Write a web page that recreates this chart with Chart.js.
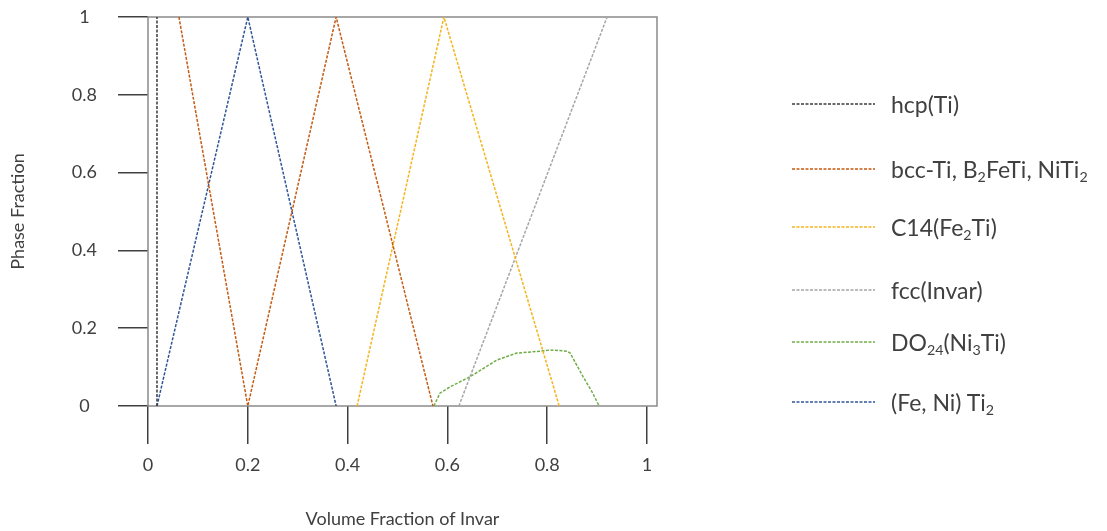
<!DOCTYPE html>
<html>
<head>
<meta charset="utf-8">
<script src="https://cdn.jsdelivr.net/npm/chart.js@4.4.1/dist/chart.umd.min.js"></script>
<style>
  html, body { margin: 0; padding: 0; background: #fff; }
  #wrap { position: relative; width: 1107px; height: 531px; }
  #legend { position: absolute; left: 0; top: 0; font: 23px Lato, sans-serif; color: #404040; }
  #legend .item { position: absolute; left: 792px; height: 40px; margin-top: -20px; display: flex; align-items: center; white-space: nowrap; }
  #legend svg { margin-right: 16px; flex: none; }
  #legend sub { font-size: 62%; vertical-align: -0.25em; line-height: 0; }
</style>
</head>
<body>
<div id="wrap">
  <canvas id="myChart" width="1107" height="531"></canvas>
  <div id="legend"></div>
</div>
<script>
// Tên các pha (thứ tự chú giải)
const phaseNames = ['hcp(Ti)', 'bcc-Ti, B₂FeTi, NiTi₂', 'C14(Fe₂Ti)', 'fcc(Invar)', 'DO₂₄(Ni₃Ti)', '(Fe, Ni) Ti₂'];
const phaseColors = ['#3b3b3b', '#c55a11', '#f5b41c', '#a5a5a5', '#70ad47', '#2f5597'];

// x = volume fraction of Invar, y = phase fraction
const hcpX = [0.018, 0.018];
const hcpY = [0, 1];
const bccX = [0.062, 0.2, 0.377, 0.571];
const bccY = [1, 0, 1, 0];
const c14X = [0.419, 0.593, 0.824];
const c14Y = [0, 1, 0];
const fccX = [0.623, 0.92];
const fccY = [0, 1];
const do24X = [0.573, 0.585, 0.605, 0.645, 0.699, 0.739, 0.786, 0.806, 0.84, 0.846, 0.872, 0.89, 0.904];
const do24Y = [0, 0.033, 0.049, 0.075, 0.118, 0.136, 0.141, 0.144, 0.141, 0.136, 0.075, 0.036, 0];
const fenitiX = [0.018, 0.2, 0.377];
const fenitiY = [0, 1, 0];

const seriesX = [hcpX, bccX, c14X, fccX, do24X, fenitiX];
const seriesY = [hcpY, bccY, c14Y, fccY, do24Y, fenitiY];

const xTitle = 'Volume Fraction of Invar';
const yTitle = 'Phase Fraction';

// vị trí dọc của từng dòng chú giải (px)
const legendRowY = [104, 169, 227, 290, 342, 402];

Chart.defaults.font.family = 'Lato';
Chart.defaults.color = '#404040';

// khung quanh vùng vẽ
const plotBox = {
    id: 'plotBox',
    beforeDatasetsDraw(chart) {
        const a = chart.chartArea;
        const ctx = chart.ctx;
        ctx.save();
        ctx.strokeStyle = '#8a8a8a';
        ctx.lineWidth = 1.5;
        ctx.strokeRect(a.left, a.top, a.right - a.left, a.bottom - a.top);
        ctx.restore();
    }
};

const datasets = phaseNames.map((name, i) => ({
    label: name,
    data: seriesX[i].map((x, j) => ({ x: x, y: seriesY[i][j] })),
    showLine: true,
    borderColor: phaseColors[i],
    backgroundColor: phaseColors[i],
    borderWidth: 1.5,
    borderDash: [3, 1.5],
    pointRadius: 0,
    tension: 0
}));

// bỏ số 0 thừa: 1.0 -> 1
const tickLabel = v => String(Math.round(v * 10) / 10);

const ctx = document.getElementById('myChart').getContext('2d');
const myChart = new Chart(ctx, {
    type: 'scatter',
    data: { datasets: datasets },
    options: {
        responsive: false,
        animation: false,
        layout: { padding: { top: 17, left: 0, right: 450, bottom: 0 } },
        plugins: {
            tooltip: { enabled: false },
            legend: { display: false }
        },
        scales: {
            x: {
                type: 'linear',
                position: 'bottom',
                min: 0,
                max: 1.02,
                ticks: { stepSize: 0.2, includeBounds: false, padding: 10, font: { size: 18 }, maxRotation: 0, callback: tickLabel },
                grid: { drawOnChartArea: false, tickLength: 38, color: '#404040', lineWidth: 1.5 },
                border: { display: false },
                title: { display: true, text: xTitle, font: { size: 18 }, padding: { top: 22.6, bottom: 1.2 } }
            },
            y: {
                type: 'linear',
                position: 'left',
                min: 0,
                max: 1,
                // vạch dài 30px, nhãn cách thêm 21px (phần đầu vạch để trống)
                ticks: { stepSize: 0.2, padding: 0, crossAlign: 'center', font: { size: 18 }, callback: tickLabel },
                grid: { drawOnChartArea: false, tickLength: 51, tickBorderDash: [30, 21], tickBorderDashOffset: 30, color: '#404040', lineWidth: 1.5 },
                border: { display: false },
                title: { display: true, text: yTitle, font: { size: 18 }, padding: { top: 7.2, bottom: 0 } },
                afterFit: function (scale) { scale.width = 148; }
            }
        }
    },
    plugins: [plotBox]
});

// Chú giải HTML lấy từ dữ liệu biểu đồ
const toSub = t => t.replace(/[₀-₉]+/g, s => '<sub>' + [...s].map(c => c.charCodeAt(0) - 0x2080).join('') + '</sub>');
const legendItems = Chart.defaults.plugins.legend.labels.generateLabels(myChart);
const legendEl = document.getElementById('legend');
legendItems.forEach(function (item, i) {
    const row = document.createElement('div');
    row.className = 'item';
    row.style.top = legendRowY[i] + 'px';
    row.innerHTML = '<svg width="83" height="6"><line x1="0" y1="3" x2="83" y2="3" stroke="' + item.strokeStyle +
        '" stroke-width="1.5" stroke-dasharray="' + (item.lineDash || []).join(' ') + '"/></svg>' +
        '<span>' + toSub(item.text) + '</span>';
    legendEl.appendChild(row);
});
</script>
</body>
</html>
